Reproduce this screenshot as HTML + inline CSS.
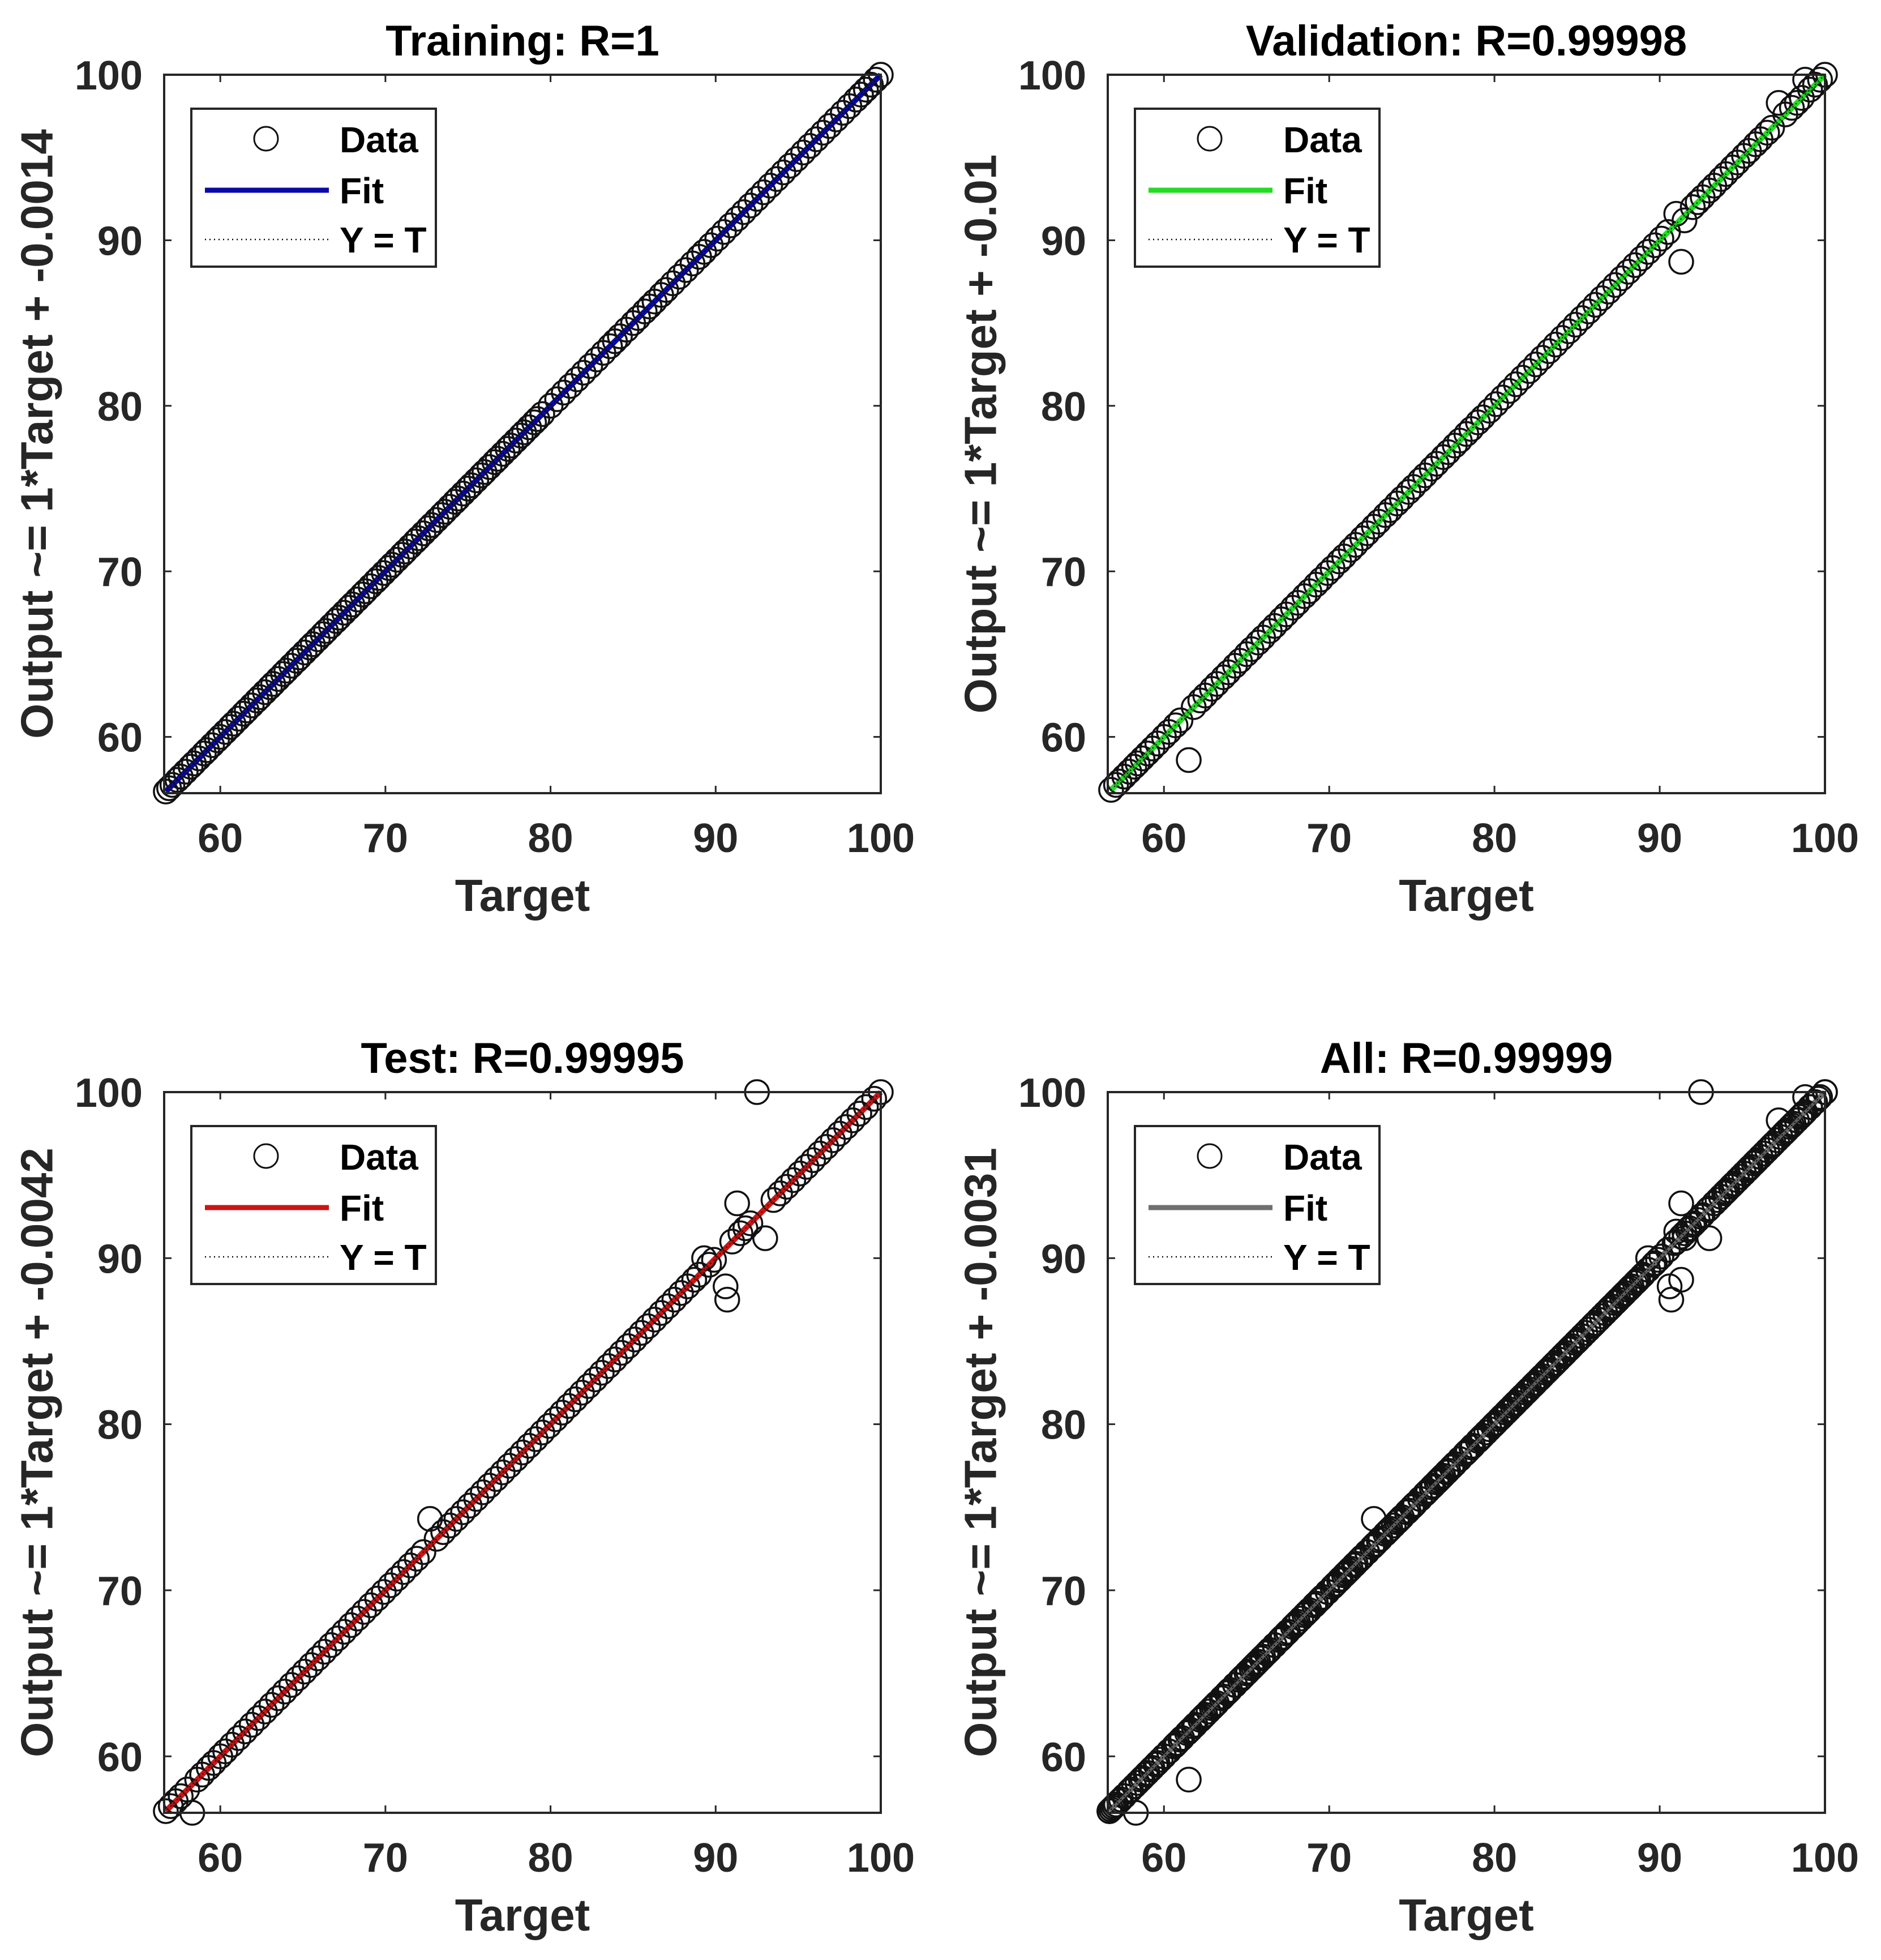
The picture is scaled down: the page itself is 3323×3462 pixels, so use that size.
<!DOCTYPE html>
<html><head><meta charset="utf-8"><style>
html,body{margin:0;padding:0;background:#fff;}
svg{display:block;font-family:"Liberation Sans",Arial,sans-serif;}
</style></head><body>
<svg id="fig" width="3323" height="3462" viewBox="0 0 3323 3462" xmlns="http://www.w3.org/2000/svg"></svg>
<script>
const ticks = [60,70,80,90,100];
const axisRange = [56.6,100];
const trainTarget = [56.7,56.9,57.1,57.4,57.6,57.9,58.2,58.4,58.7,59.0,59.2,59.5,59.8,60.0,60.3,60.6,60.8,61.1,61.4,61.6,61.9,62.2,62.4,62.7,63.0,63.2,63.5,63.8,64.0,64.3,64.6,64.8,65.1,65.4,65.6,65.9,66.2,66.4,66.7,67.0,67.2,67.5,67.8,68.0,68.3,68.6,68.8,69.1,69.4,69.6,69.9,70.2,70.4,70.7,71.0,71.2,71.5,71.8,72.0,72.3,72.6,72.8,73.1,73.4,73.6,73.9,74.2,74.4,74.7,75.0,75.2,75.5,75.8,76.0,76.3,76.6,76.8,77.1,77.4,77.6,77.9,78.2,78.4,78.7,79.0,79.2,79.5,80.0,80.4,80.8,81.2,81.6,82.0,82.4,82.8,83.2,83.6,83.9,84.2,84.6,85.0,85.3,85.7,86.0,86.3,86.7,87.0,87.4,87.8,88.2,88.6,89.0,89.3,89.7,90.1,90.5,90.9,91.3,91.7,92.1,92.5,92.9,93.3,93.7,94.1,94.5,94.9,95.3,95.7,96.1,96.5,96.9,97.3,97.7,98.1,98.5,98.8,99.1,99.4,99.7,100.0];
const trainOutput = [56.7,56.9,57.1,57.4,57.6,57.9,58.2,58.4,58.7,59.0,59.2,59.5,59.8,60.0,60.3,60.6,60.8,61.1,61.4,61.6,61.9,62.2,62.4,62.7,63.0,63.2,63.5,63.8,64.0,64.3,64.6,64.8,65.1,65.4,65.6,65.9,66.2,66.4,66.7,67.0,67.2,67.5,67.8,68.0,68.3,68.6,68.8,69.1,69.4,69.6,69.9,70.2,70.4,70.7,71.0,71.2,71.5,71.8,72.0,72.3,72.6,72.8,73.1,73.4,73.6,73.9,74.2,74.4,74.7,75.0,75.2,75.5,75.8,76.0,76.3,76.6,76.8,77.1,77.4,77.6,77.9,78.2,78.4,78.7,79.0,79.2,79.5,80.0,80.4,80.8,81.2,81.6,82.0,82.4,82.8,83.2,83.6,83.9,84.2,84.6,85.0,85.3,85.7,86.0,86.3,86.7,87.0,87.4,87.8,88.2,88.6,89.0,89.3,89.7,90.1,90.5,90.9,91.3,91.7,92.1,92.5,92.9,93.3,93.7,94.1,94.5,94.9,95.3,95.7,96.1,96.5,96.9,97.3,97.7,98.1,98.5,98.8,99.1,99.4,99.7,100.0];
const valTarget = [56.8,57.1,57.3,57.6,57.9,58.2,58.4,58.7,59.0,59.3,59.6,60.0,60.3,60.7,61.0,61.5,61.8,62.2,62.5,62.9,63.2,63.6,63.9,64.3,64.6,65.0,65.3,65.7,66.0,66.4,66.7,67.1,67.4,67.8,68.1,68.5,68.8,69.2,69.5,69.9,70.2,70.6,70.9,71.3,71.6,72.0,72.3,72.7,73.0,73.4,73.7,74.1,74.4,74.8,75.1,75.5,75.8,76.2,76.5,76.9,77.2,77.6,77.9,78.3,78.6,79.0,79.3,79.7,80.1,80.5,80.9,81.3,81.7,82.1,82.5,82.9,83.3,83.7,84.1,84.5,84.9,85.3,85.7,86.1,86.5,86.9,87.3,87.7,88.1,88.5,88.9,89.3,89.7,90.1,90.5,91.0,91.3,91.5,92.0,92.3,92.6,93.0,93.3,93.7,94.0,94.4,94.7,95.1,95.4,95.8,96.1,96.5,96.8,97.2,97.6,98.0,98.3,98.6,98.8,99.1,99.4,99.7,100.0];
const valOutput = [56.8,57.1,57.3,57.6,57.9,58.2,58.4,58.7,59.0,59.3,59.6,60.0,60.3,60.7,61.0,58.6,61.8,62.2,62.5,62.9,63.2,63.6,63.9,64.3,64.6,65.0,65.3,65.7,66.0,66.4,66.7,67.1,67.4,67.8,68.1,68.5,68.8,69.2,69.5,69.9,70.2,70.6,70.9,71.3,71.6,72.0,72.3,72.7,73.0,73.4,73.7,74.1,74.4,74.8,75.1,75.5,75.8,76.2,76.5,76.9,77.2,77.6,77.9,78.3,78.6,79.0,79.3,79.7,80.1,80.5,80.9,81.3,81.7,82.1,82.5,82.9,83.3,83.7,84.1,84.5,84.9,85.3,85.7,86.1,86.5,86.9,87.3,87.7,88.1,88.5,88.9,89.3,89.7,90.1,90.5,91.6,88.7,91.2,92.0,92.3,92.6,93.0,93.3,93.7,94.0,94.4,94.7,95.1,95.4,95.8,96.1,96.5,96.8,98.3,97.6,98.0,98.3,98.6,99.7,99.1,99.4,99.7,100.0];
const testTarget = [56.7,57.0,57.3,57.6,58.0,58.3,58.6,58.9,59.3,59.6,60.0,60.3,60.7,61.1,61.5,61.9,62.3,62.7,63.1,63.5,63.9,64.3,64.7,65.1,65.5,65.9,66.3,66.7,67.1,67.5,67.9,68.3,68.7,69.1,69.5,69.9,70.3,70.7,71.1,71.5,71.9,72.3,72.7,73.1,73.5,73.9,74.3,74.7,75.1,75.5,75.9,76.3,76.7,77.1,77.5,77.9,78.3,78.7,79.1,79.5,79.9,80.3,80.7,81.1,81.5,81.9,82.3,82.7,83.1,83.5,83.9,84.3,84.7,85.1,85.5,85.9,86.3,86.7,87.1,87.5,87.9,88.3,88.7,89.0,89.3,89.6,89.9,90.6,90.7,91.0,91.3,91.5,91.8,92.1,92.5,93.0,93.5,93.9,94.3,94.7,95.1,95.5,95.9,96.3,96.7,97.1,97.5,97.9,98.3,98.7,99.1,99.6,100.0];
const testOutput = [56.7,57.0,57.3,57.6,58.0,56.6,58.6,58.9,59.3,59.6,60.0,60.3,60.7,61.1,61.5,61.9,62.3,62.7,63.1,63.5,63.9,64.3,64.7,65.1,65.5,65.9,66.3,66.7,67.1,67.5,67.9,68.3,68.7,69.1,69.5,69.9,70.3,70.7,71.1,71.5,71.9,72.3,74.3,73.1,73.5,73.9,74.3,74.7,75.1,75.5,75.9,76.3,76.7,77.1,77.5,77.9,78.3,78.7,79.1,79.5,79.9,80.3,80.7,81.1,81.5,81.9,82.3,82.7,83.1,83.5,83.9,84.3,84.7,85.1,85.5,85.9,86.3,86.7,87.1,87.5,87.9,88.3,88.7,89.0,90.0,89.6,89.9,88.3,87.5,91.0,93.3,91.5,91.8,92.1,100.0,91.2,93.5,93.9,94.3,94.7,95.1,95.5,95.9,96.3,96.7,97.1,97.5,97.9,98.3,98.7,99.1,99.6,100.0];
const fitSlope = [1,1,1,1];
const fitIntercept = [-0.0014,-0.01,-0.0042,-0.0031];
const titles = ["Training: R=1","Validation: R=0.99998","Test: R=0.99995","All: R=0.99999"];
const ylabels = ["Output ~= 1*Target + -0.0014","Output ~= 1*Target + -0.01","Output ~= 1*Target + -0.0042","Output ~= 1*Target + -0.0031"];
const fitColors = ["#0a0aa8","#22dd22","#cc1414","#707070"];

const NS="http://www.w3.org/2000/svg";
const svg=document.getElementById('fig');
function mk(tag,attrs,parent){const e=document.createElementNS(NS,tag);for(const k in attrs)e.setAttribute(k,attrs[k]);parent.appendChild(e);return e;}

const boxes=[[290,132,1556,1401],[1957,132,3224,1401],[290,1929,1556,3202],[1957,1929,3224,3202]];
const names=["training","validation","test","all"];
const allT=trainTarget.concat(valTarget,testTarget);
const allO=trainOutput.concat(valOutput,testOutput);
const sets=[[trainTarget,trainOutput],[valTarget,valOutput],[testTarget,testOutput],[allT,allO]];

boxes.forEach((b,i)=>{
  const [L,T,R,B]=b;
  const g=mk('g',{},svg);
  
  
  const sx=v=>L+(v-axisRange[0])/(axisRange[1]-axisRange[0])*(R-L);
  const sy=v=>B-(v-axisRange[0])/(axisRange[1]-axisRange[0])*(B-T);
  const [tx,oy]=sets[i];
  const t0=Math.min(...tx),t1=Math.max(...tx);
  const fl=mk('line',{x1:sx(t0),y1:sy(fitSlope[i]*t0+fitIntercept[i]),x2:sx(t1),y2:sy(fitSlope[i]*t1+fitIntercept[i]),stroke:fitColors[i],"stroke-width":10},g);
  
  
  const dg=mk('g',{},g);
  
  
  for(let k=0;k<tx.length;k++){
    const c=mk('circle',{cx:sx(tx[k]),cy:sy(oy[k]),r:21,fill:'none',stroke:'#111',"stroke-width":3.5},dg);
    
    
  }
  const fl2=mk('line',{x1:sx(t0),y1:sy(fitSlope[i]*t0+fitIntercept[i]),x2:sx(t1),y2:sy(fitSlope[i]*t1+fitIntercept[i]),stroke:fitColors[i],"stroke-width":5,"stroke-opacity":0.8},g);
  
  
  const yl=mk('line',{x1:sx(axisRange[0]),y1:sy(axisRange[0]),x2:sx(axisRange[1]),y2:sy(axisRange[1]),stroke:'#000',"stroke-width":2,"stroke-dasharray":"2 6"},g);
  
  
  const ax=mk('rect',{x:L,y:T,width:R-L,height:B-T,fill:'none',stroke:'#262626',"stroke-width":4},g);
  
  
  ticks.forEach(v=>{
    const X=sx(v),Y=sy(v);
    mk('line',{x1:X,y1:B,x2:X,y2:B-13,stroke:'#262626',"stroke-width":3},g);
    mk('line',{x1:X,y1:T,x2:X,y2:T+13,stroke:'#262626',"stroke-width":3},g);
    mk('line',{x1:L,y1:Y,x2:L+13,y2:Y,stroke:'#262626',"stroke-width":3},g);
    mk('line',{x1:R,y1:Y,x2:R-13,y2:Y,stroke:'#262626',"stroke-width":3},g);
    const xt=mk('text',{x:X,y:B+104,"text-anchor":"middle","font-size":72,"font-weight":"bold",fill:'#262626'},g);
    xt.textContent=v;
    
    
    const yt=mk('text',{x:L-38,y:Y+26,"text-anchor":"end","font-size":72,"font-weight":"bold",fill:'#262626'},g);
    yt.textContent=v;
    
    
  });
  const ti=mk('text',{x:(L+R)/2,y:T-34,"text-anchor":"middle","font-size":76,"font-weight":"bold",fill:'#000'},g);
  ti.textContent=titles[i];
  
  
  const xa=mk('text',{x:(L+R)/2,y:B+208,"text-anchor":"middle","font-size":80,"font-weight":"bold",fill:'#262626'},g);
  xa.textContent="Target";
  
  
  const yc=L-225, ym=(T+B)/2;
  const ya=mk('text',{x:yc,y:ym,"text-anchor":"middle","dominant-baseline":"central","font-size":80,"font-weight":"bold",fill:'#262626',transform:`rotate(-90 ${yc} ${ym})`},g);
  ya.textContent=ylabels[i];
  
  
  const lg=mk('g',{},g);
  
  
  const lx=L+48, ly=T+60;
  mk('rect',{x:lx,y:ly,width:432,height:279,fill:'#fff',stroke:'#262626',"stroke-width":4},lg);
  mk('circle',{cx:lx+132,cy:ly+53,r:21,fill:'none',stroke:'#111',"stroke-width":3},lg);
  mk('line',{x1:lx+24,y1:ly+144,x2:lx+243,y2:ly+144,stroke:fitColors[i],"stroke-width":9},lg);
  mk('line',{x1:lx+24,y1:ly+231,x2:lx+243,y2:ly+231,stroke:'#000',"stroke-width":2.5,"stroke-dasharray":"2 6"},lg);
  [["Data",ly+77],["Fit",ly+167],["Y = T",ly+254]].forEach(([s,y])=>{
    const t=mk('text',{x:lx+262,y:y,"font-size":64,"font-weight":"bold",fill:'#000'},lg);
    t.textContent=s;
    
    
  });
});
</script>
</body></html>
